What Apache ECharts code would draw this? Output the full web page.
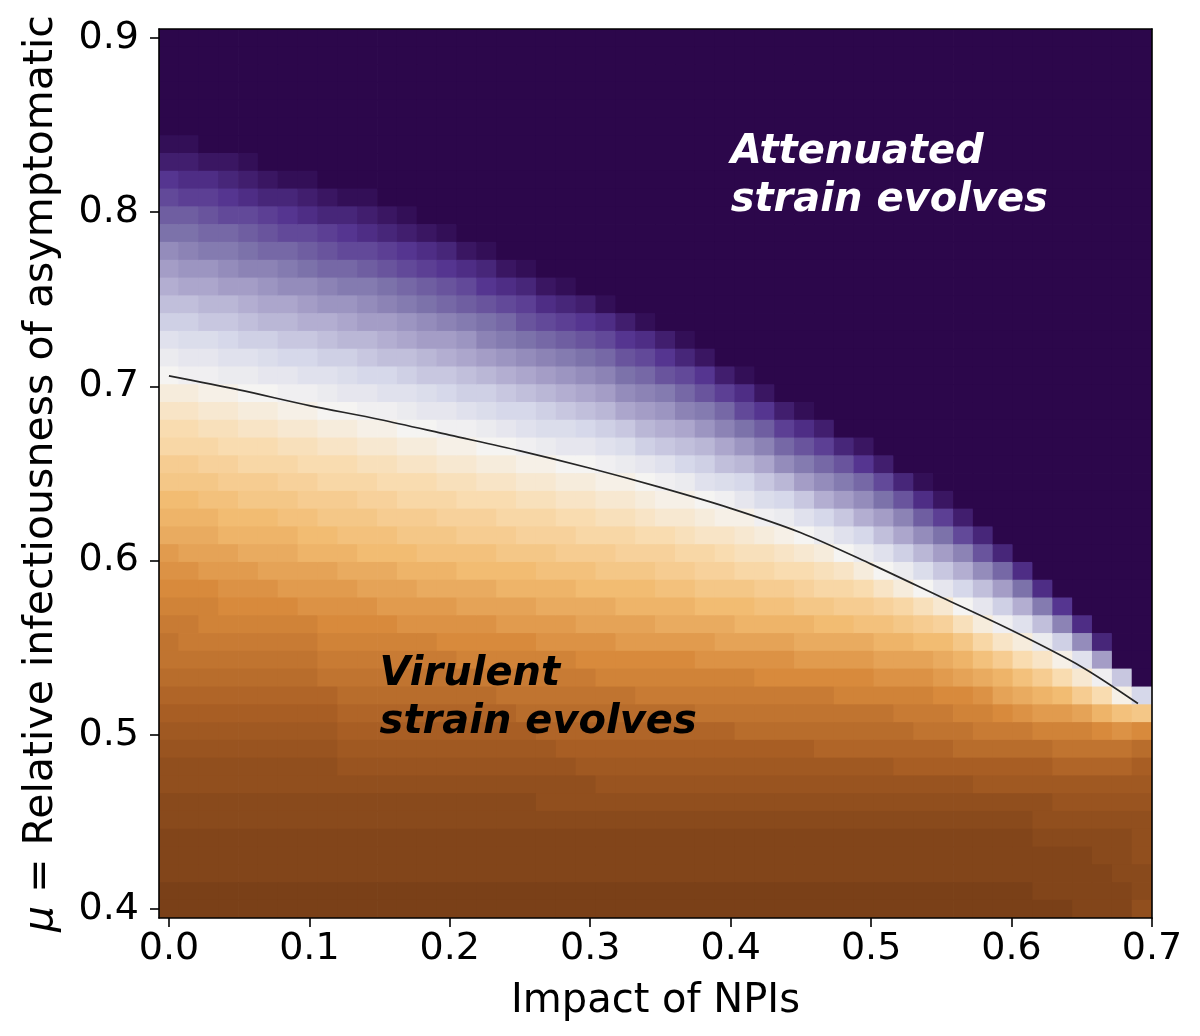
<!DOCTYPE html>
<html>
<head>
<meta charset="utf-8">
<script src="https://cdn.jsdelivr.net/npm/echarts@6/dist/echarts.min.js"></script>
<style>
html,body{margin:0;padding:0;background:#ffffff;}
#chart{width:1200px;height:1036px;}
</style>
</head>
<body>
<div id="chart"></div>
<script>
// ---- cell centres (x: impact of NPIs, y: mu, top row first) ----
const npiImpact = [0.0000,0.0141,0.0283,0.0424,0.0566,0.0707,0.0848,0.0990,0.1131,0.1273,
  0.1414,0.1556,0.1697,0.1838,0.1980,0.2121,0.2263,0.2404,0.2545,0.2687,
  0.2828,0.2970,0.3111,0.3253,0.3394,0.3535,0.3677,0.3818,0.3960,0.4101,
  0.4242,0.4384,0.4525,0.4667,0.4808,0.4949,0.5091,0.5232,0.5374,0.5515,
  0.5657,0.5798,0.5939,0.6081,0.6222,0.6364,0.6505,0.6646,0.6788,0.6929];
const muValues = [0.9000,0.8898,0.8796,0.8694,0.8592,0.8490,0.8388,0.8286,0.8184,0.8082,
  0.7980,0.7878,0.7776,0.7673,0.7571,0.7469,0.7367,0.7265,0.7163,0.7061,
  0.6959,0.6857,0.6755,0.6653,0.6551,0.6449,0.6347,0.6245,0.6143,0.6041,
  0.5939,0.5837,0.5735,0.5633,0.5531,0.5429,0.5327,0.5224,0.5122,0.5020,
  0.4918,0.4816,0.4714,0.4612,0.4510,0.4408,0.4306,0.4204,0.4102,0.4000];

// ---- cell values, one string per column (top -> bottom) ----
// each character is a level 0..60 (value = level / 60); the first
// saturatedTopRows[c] cells of column c sit at the top level (60).
const levelAlphabet = "0123456789abcdefghijklmnopqrstuvwxyzABCDEFGHIJKLMNOPQRSTUVWXY";
const levelMax = 60;
const saturatedTopRows = [6,6,7,7,7,8,8,8,9,9,9,10,10,11,11,12,12,13,13,14,
  14,15,15,16,16,17,17,18,19,19,20,21,21,22,23,23,24,25,25,26,
  27,28,29,30,31,32,33,34,36,37];
const columnLevels = [
  "XVSQOMJHFDBywusqonlkihgedcba9987654332211100",
  "XVTROMKIGDBzxvsqonlkihgfdcbaa987654332211100",
  "WTRPNLIGECzxvtrpnmkjhgfecbba987654332211100",
  "WUSQNLJHECAywtrpomljihfedcba987654332211100",
  "XVTQOMKHFDBywusqonlkihgedcba987654332211100",
  "WURPNKIGEBzxusqonlkihgfdcba987654332211100",
  "XUSQNLJGECAxvtrpnmkjhgfecba987654332211100",
  "XVTQOMJHFCAyvtrpomljihfedba987654332211100",
  "WURPNKIFDBywusqonlkihfedcba97654332211100",
  "XUSQNLIGEBzxusqonlkjhgedcba98765432211100",
  "XVTQOLJHECAxvtrpnmkjigfdcba98765432211100",
  "WURPMKHFDAyvtrpomljigfecba98765432211100",
  "XVSQNLIGDBywusqonlkihfedba98765432211100",
  "WTROMJHECzxusqonlkjhgedba98765432211100",
  "XUSPNKHFCAxvtrpnmkjhgedca98765432211100",
  "WTQOLIGDByvtrpomljigfdcb98765432211100",
  "XUSPMKHEBzwusqomljigfdcba8765432211100",
  "WTQNLIFCAxusqonlkihfecba9765432211100",
  "XURPMJGDAyvtrpnmkihfecba9865432211100",
  "WTQNKHEBzwtrpnmkjhgedba9875433211100",
  "XUROLIFCzxusqomljhgedba9876433211100",
  "VSPMJGDAxusqonljigfdca9876533211100",
  "XTQNKHEByvtrpnlkigfdcb9876543211100",
  "VSPMJGCzwtrpnmkihfecb9876543211100",
  "XTQNKHEBxusqomkihfecba876543211100",
  "VSPLIFCyvtromljhgecba876543211100",
  "XUQNKGDAwtrpnljhgecba876543211100",
  "WSPLIEByusqnmkigedba976543211100",
  "VRNKGDzvtqomkigfdba976543211100",
  "XTQMIEAxtrpnkihfdba986543211100",
  "WSOKGCzvspnljhfdca986543211100",
  "VRNJEAwtqoljhfdca986543211100",
  "XTPLHCyuromkhgeca986543211100",
  "VRNJFAwspnkigeca987543211100",
  "UPLHCyuqnligecb987543211100",
  "WSNJFAwsoljgecb987543211100",
  "VQMHDyuqmjhfdb987543211100",
  "UPKGBwsnkhfdba87643211100",
  "XTOJEzuplifdba97643211100",
  "WRMHCxrmigeca97643211100",
  "VQKFAupkhfcb98643211100",
  "UPJDxsnjgdba8653211100",
  "UNHBvqlhfca8653211100",
  "TMFysojgda8653211100",
  "TLDwqlheb8653321110",
  "SKBtoieb9754321110",
  "TJyrlfb9754321111",
  "UHvohc9754322111",
  "Ctjd9754322211",
  "Akc8654333223"
];

// ---- black boundary curve ----
const boundaryNPI = [0.00,0.05,0.10,0.15,0.20,0.25,0.30,0.35,0.40,0.45,0.50,0.55,0.60,0.65,0.69];
const boundaryMu  = [0.706,0.698,0.689,0.681,0.672,0.663,0.653,0.642,0.630,0.616,0.598,0.579,0.560,0.539,0.518];

// ---- ticks and annotations ----
const xTicks = [0.0,0.1,0.2,0.3,0.4,0.5,0.6,0.7];
const yTicks = [0.4,0.5,0.6,0.7,0.8,0.9];
const annotationText = ["Attenuated\nstrain evolves", "Virulent\nstrain evolves"];
const annotationNPI = [0.4, 0.15];
const annotationMu = [0.8, 0.5];

// ---- build cells ----
const cellW = (npiImpact[npiImpact.length-1] - npiImpact[0]) / (npiImpact.length - 1);
const cellH = (muValues[0] - muValues[muValues.length-1]) / (muValues.length - 1);
const cells = [];
for (let c = 0; c < npiImpact.length; c++) {
  const col = levelAlphabet[levelMax].repeat(saturatedTopRows[c]) + columnLevels[c];
  for (let r = 0; r < muValues.length; r++) {
    const ch = col[r] !== undefined ? col[r] : '0';
    cells.push([npiImpact[c], muValues[r], levelAlphabet.indexOf(ch) / levelMax]);
  }
}

const colorStops = ['#7a4018','#a85e24','#d88a3c','#f2bc72','#f9dcb0','#f5f4f2',
                    '#d6d8ea','#aca6cc','#7c72aa','#553590','#2c074b'];

const FONT = 'DejaVu Sans';
const xMin = npiImpact[0] - cellW / 2, xMax = 0.7;
const yMin = muValues[muValues.length-1] - cellH / 2, yMax = muValues[0] + cellH / 2;

const chart = echarts.init(document.getElementById('chart'), null, {renderer: 'canvas'});
const option = {
  animation: false,
  backgroundColor: '#ffffff',
  grid: {left: 159, right: 48, top: 29, bottom: 118, containLabel: false},
  visualMap: {
    show: false, type: 'continuous', min: 0, max: 1, dimension: 2, seriesIndex: 0,
    inRange: {color: colorStops}
  },
  xAxis: [{
    type: 'value', min: xMin, max: xMax, position: 'bottom', z: 10,
    axisLine: {show: true, onZero: false, lineStyle: {color: '#000', width: 1.6}},
    axisTick: {show: true, customValues: xTicks, length: 9, lineStyle: {color: '#000', width: 1.6}},
    axisLabel: {customValues: xTicks, formatter: v => v.toFixed(1), color: '#000',
                fontSize: 38, fontFamily: FONT, margin: 12},
    splitLine: {show: false},
    name: 'Impact of NPIs', nameLocation: 'middle', nameGap: 64,
    nameTextStyle: {fontSize: 40, color: '#000', fontFamily: FONT}
  }, {
    type: 'value', min: xMin, max: xMax, position: 'top', z: 10,
    axisLine: {show: true, onZero: false, lineStyle: {color: '#000', width: 1.6}},
    axisTick: {show: false}, axisLabel: {show: false}, splitLine: {show: false}
  }],
  yAxis: [{
    type: 'value', min: yMin, max: yMax, position: 'left', z: 10,
    axisLine: {show: true, onZero: false, lineStyle: {color: '#000', width: 1.6}},
    axisTick: {show: true, customValues: yTicks, length: 9, lineStyle: {color: '#000', width: 1.6}},
    axisLabel: {customValues: yTicks, formatter: v => v.toFixed(1), color: '#000',
                fontSize: 38, fontFamily: FONT, margin: 20},
    splitLine: {show: false},
    name: '{mu|μ} = Relative infectiousness of asymptomatic',
    nameLocation: 'middle', nameRotate: 90, nameGap: 97,
    nameTextStyle: {fontSize: 41, color: '#000', fontFamily: FONT,
      rich: {mu: {fontSize: 41, color: '#000', fontFamily: FONT, fontStyle: 'italic'}}}
  }, {
    type: 'value', min: yMin, max: yMax, position: 'right', z: 10,
    axisLine: {show: true, onZero: false, lineStyle: {color: '#000', width: 1.6}},
    axisTick: {show: false}, axisLabel: {show: false}, splitLine: {show: false}
  }],
  series: [{
    type: 'custom', coordinateSystem: 'cartesian2d', xAxisIndex: 0, yAxisIndex: 0,
    data: cells, encode: {x: 0, y: 1}, clip: true, silent: true, z: 1,
    renderItem: function (params, api) {
      const x = api.value(0), y = api.value(1);
      const a = api.coord([x - cellW / 2, y + cellH / 2]);
      const b = api.coord([x + cellW / 2, y - cellH / 2]);
      return {
        type: 'rect',
        shape: {x: a[0] - 0.4, y: a[1] - 0.4, width: b[0] - a[0] + 0.8, height: b[1] - a[1] + 0.8},
        style: {fill: api.visual('color')}
      };
    }
  }, {
    type: 'line', xAxisIndex: 0, yAxisIndex: 0, z: 3,
    data: boundaryNPI.map((x, i) => [x, boundaryMu[i]]),
    smooth: 0.3, symbol: 'none', silent: true,
    lineStyle: {color: '#262626', width: 1.7}
  }]
};
chart.setOption(option);

const graphics = annotationText.map((t, i) => {
  const p = chart.convertToPixel({xAxisIndex: 0, yAxisIndex: 0}, [annotationNPI[i], annotationMu[i]]);
  return {
    type: 'text', x: p[0], y: p[1] + 12, z: 20,
    style: {
      text: t, fill: i === 0 ? '#ffffff' : '#000000',
      font: 'italic bold 40px "DejaVu Sans"', lineHeight: 48,
      align: 'left', verticalAlign: 'bottom'
    }
  };
});
chart.setOption({graphic: graphics});
</script>
</body>
</html>
